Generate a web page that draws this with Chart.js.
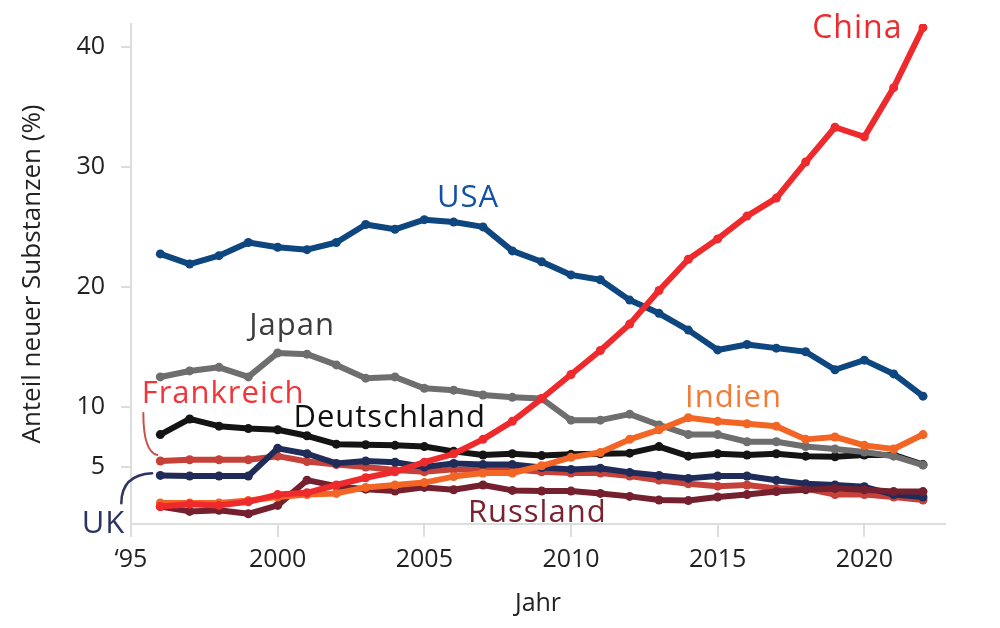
<!DOCTYPE html>
<html>
<head>
<meta charset="utf-8">
<script src="https://cdn.jsdelivr.net/npm/chart.js@4.4.1/dist/chart.umd.min.js"></script>
<style>
  html, body { margin: 0; padding: 0; background: #fff; }
  #wrap { width: 1000px; height: 628px; }
</style>
</head>
<body>
<div id="wrap"><canvas id="substanzChart"></canvas></div>
<script>
// Jahre
const years = [1996, 1997, 1998, 1999, 2000, 2001, 2002, 2003, 2004, 2005, 2006, 2007, 2008, 2009,
               2010, 2011, 2012, 2013, 2014, 2015, 2016, 2017, 2018, 2019, 2020, 2021, 2022];

// Anteil neuer Substanzen (%) je Land
const china       = [1.7, 1.9, 1.8, 2.1, 2.7, 2.85, 3.5, 4.1, 4.6, 5.4, 6.1, 7.3, 8.8, 10.7,
                     12.7, 14.7, 16.9, 19.7, 22.3, 24.0, 25.9, 27.4, 30.4, 33.3, 32.5, 36.6, 41.6];
const usa         = [22.75, 21.9, 22.6, 23.7, 23.3, 23.1, 23.7, 25.2, 24.8, 25.6, 25.4, 25.0, 23.0, 22.1,
                     21.0, 20.6, 18.9, 17.8, 16.4, 14.75, 15.2, 14.9, 14.6, 13.1, 13.9, 12.75, 10.9];
const japan       = [12.5, 13.0, 13.3, 12.5, 14.5, 14.4, 13.5, 12.4, 12.5, 11.55, 11.4, 11.0, 10.8, 10.7,
                     8.9, 8.9, 9.4, 8.5, 7.7, 7.7, 7.1, 7.1, 6.7, 6.5, 6.25, 5.9, 5.15];
const deutschland = [7.7, 9.0, 8.4, 8.2, 8.1, 7.6, 6.9, 6.85, 6.8, 6.7, 6.3, 6.0, 6.1, 5.95,
                     6.05, 6.1, 6.15, 6.7, 5.9, 6.1, 6.0, 6.1, 5.9, 5.85, 6.0, 6.0, 5.2];
const frankreich  = [5.5, 5.6, 5.6, 5.6, 5.9, 5.45, 5.2, 5.0, 4.75, 4.6, 4.8, 4.8, 4.8, 4.6,
                     4.5, 4.5, 4.25, 3.9, 3.6, 3.4, 3.5, 3.2, 3.2, 2.7, 2.7, 2.5, 2.25];
const uk          = [4.3, 4.25, 4.25, 4.25, 6.55, 6.1, 5.3, 5.5, 5.4, 5.0, 5.3, 5.2, 5.2, 4.95,
                     4.8, 4.9, 4.55, 4.3, 4.05, 4.25, 4.25, 3.9, 3.6, 3.5, 3.35, 2.7, 2.5];
const indien      = [2.0, 2.0, 2.0, 2.2, 2.5, 2.7, 2.8, 3.3, 3.5, 3.7, 4.2, 4.5, 4.5, 5.1,
                     5.8, 6.2, 7.3, 8.1, 9.1, 8.8, 8.6, 8.4, 7.3, 7.5, 6.8, 6.5, 7.7];
const russland    = [1.7, 1.3, 1.4, 1.1, 1.8, 3.9, 3.4, 3.15, 3.0, 3.3, 3.1, 3.5, 3.05, 3.0,
                     3.0, 2.8, 2.55, 2.25, 2.2, 2.5, 2.7, 2.95, 3.1, 3.2, 3.1, 2.95, 2.95];

// Achsenbeschriftung
const xTicks = [1995, 2000, 2005, 2010, 2015, 2020];
const xTickLabels = ['\u201895', '2000', '2005', '2010', '2015', '2020'];
const yTicks = [5, 10, 20, 30, 40];

const yMin = 0.25;
const yMax = 41.9;

// Beschriftungen direkt an den Linien (Position in Jahr / Prozent)
const seriesLabels = [
    { text: 'China',       year: 2019.76, value: 40.7,  color: '#ee2b2f', size: 32 },
    { text: 'USA',         year: 2006.49, value: 26.64, color: '#1351a8', size: 31 },
    { text: 'Japan',       year: 2000.49, value: 16.0,  color: '#3d3d3d', size: 31 },
    { text: 'Frankreich',  year: 1998.14, value: 10.36, color: '#f0353b', size: 31 },
    { text: 'Deutschland', year: 2003.82, value: 8.36,  color: '#111111', size: 31 },
    { text: 'Indien',      year: 2015.54, value: 10.03, color: '#f47a35', size: 31 },
    { text: 'Russland',    year: 2008.85, value: 0.42,  color: '#7a2331', size: 31 },
    { text: 'UK',          year: 1994.06, value: -0.53, color: '#2d3463', size: 31 }
];

// kleine Verbindungsbögen vom Text zur Linie
const connectors = [
    { from: [1995.42, 9.5],  ctrl: [1995.42, 6.25], to: [1995.9, 6.0],   color: '#c9534a', width: 2 },
    { from: [1995.72, 4.47], ctrl: [1994.67, 4.33], to: [1994.67, 1.97], color: '#2d3463', width: 2.5 }
];

function toPoints(values) {
    return years.map((yr, i) => ({ x: yr, y: values[i] }));
}

function lineSet(label, values, color) {
    return {
        label: label,
        data: toPoints(values),
        borderColor: color,
        backgroundColor: color,
        borderWidth: 6,
        pointRadius: 4.5,
        pointHoverRadius: 4.5,
        pointBorderWidth: 0,
        borderCapStyle: 'round',
        borderJoinStyle: 'round',
        tension: 0,
        fill: false
    };
}

const labelPlugin = {
    id: 'lineLabels',
    afterDatasetsDraw(chart) {
        const ctx = chart.ctx;
        const xs = chart.scales.x;
        const ys = chart.scales.y;
        ctx.save();
        connectors.forEach(c => {
            ctx.beginPath();
            ctx.strokeStyle = c.color;
            ctx.lineWidth = c.width;
            ctx.lineCap = 'round';
            ctx.moveTo(xs.getPixelForValue(c.from[0]), ys.getPixelForValue(c.from[1]));
            ctx.quadraticCurveTo(xs.getPixelForValue(c.ctrl[0]), ys.getPixelForValue(c.ctrl[1]),
                                 xs.getPixelForValue(c.to[0]), ys.getPixelForValue(c.to[1]));
            ctx.stroke();
        });
        ctx.textAlign = 'center';
        ctx.textBaseline = 'alphabetic';
        ctx.letterSpacing = '1px'; // Originalschrift läuft etwas breiter
        seriesLabels.forEach(l => {
            ctx.font = l.size + "px 'Open Sans', sans-serif";
            ctx.fillStyle = l.color;
            ctx.fillText(l.text, xs.getPixelForValue(l.year), ys.getPixelForValue(l.value));
        });
        ctx.restore();
    }
};

Chart.defaults.font.family = "'Open Sans', sans-serif";
Chart.defaults.color = '#222';

const ctx = document.getElementById('substanzChart').getContext('2d');
const substanzChart = new Chart(ctx, {
    type: 'line',
    data: {
        // erste Reihe wird zuletzt (oben) gezeichnet
        datasets: [
            lineSet('China', china, '#ee2a2d'),
            lineSet('Indien', indien, '#f26524'),
            lineSet('Japan', japan, '#6e6e6e'),
            lineSet('Deutschland', deutschland, '#141414'),
            lineSet('Russland', russland, '#74202f'),
            lineSet('UK', uk, '#1f2c5a'),
            lineSet('Frankreich', frankreich, '#c5413a'),
            lineSet('USA', usa, '#0e4680')
        ]
    },
    options: {
        responsive: true,
        maintainAspectRatio: false,
        animation: false,
        events: [],
        layout: {
            padding: { top: 24, right: 55, left: 0, bottom: 0 }
        },
        plugins: {
            legend: { display: false },
            tooltip: { enabled: false }
        },
        scales: {
            x: {
                type: 'linear',
                min: 1995,
                max: 2022.75,
                afterBuildTicks: s => { s.ticks = xTicks.map(v => ({ value: v })); },
                afterFit: s => { s.height = 104; },
                ticks: {
                    autoSkip: false,
                    maxRotation: 0,
                    padding: 8,
                    color: '#222',
                    font: { size: 25 },
                    callback: v => xTickLabels[xTicks.indexOf(v)]
                },
                grid: {
                    drawOnChartArea: false,
                    drawTicks: true,
                    tickLength: 13,
                    color: '#dddddd',
                    lineWidth: 2
                },
                border: { display: true, color: '#dddddd', width: 2 },
                title: {
                    display: true,
                    text: 'Jahr',
                    color: '#222',
                    font: { size: 25 },
                    padding: { top: 0, bottom: 9 }
                }
            },
            y: {
                type: 'linear',
                min: yMin,
                max: yMax,
                afterBuildTicks: s => { s.ticks = yTicks.map(v => ({ value: v })); },
                afterFit: s => { s.width = 131; s.paddingTop = 0; s.paddingBottom = 0; },
                ticks: {
                    padding: 16,
                    color: '#222',
                    font: { size: 25 }
                },
                grid: {
                    drawOnChartArea: false,
                    drawTicks: true,
                    tickLength: 10,
                    color: '#dddddd',
                    lineWidth: 2
                },
                border: { display: true, color: '#dddddd', width: 2 },
                title: {
                    display: true,
                    text: 'Anteil neuer Substanzen (%)',
                    color: '#222',
                    font: { size: 26 },
                    padding: { top: 17, bottom: 0 }
                }
            }
        }
    },
    plugins: [labelPlugin]
});
</script>
</body>
</html>
